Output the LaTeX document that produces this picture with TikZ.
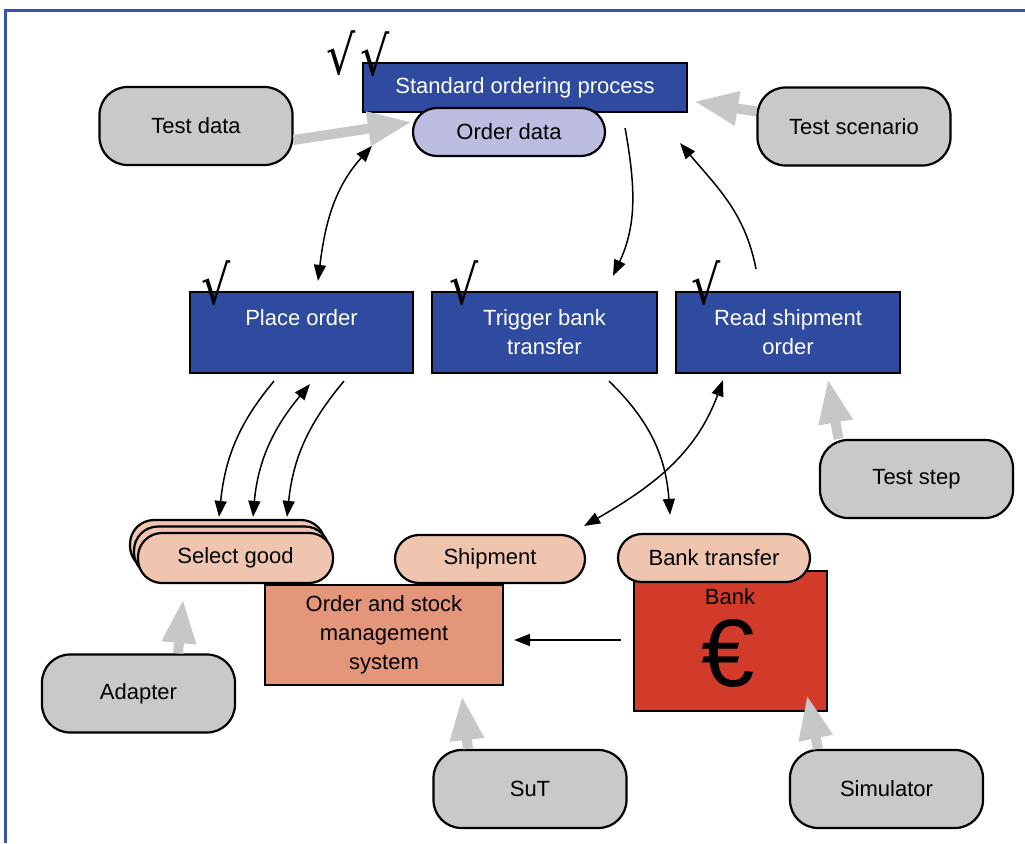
\documentclass[tikz,border=0pt]{standalone}
\usepackage{fontspec}
\setmainfont{Liberation Sans}
\newfontfamily\ckfont{DejaVu Sans}
\usetikzlibrary{arrows.meta}
\definecolor{dblue}{HTML}{2F4B9F}
\definecolor{lav}{HTML}{BCBDE0}
\definecolor{lgray}{HTML}{C8C9CB}
\definecolor{arrgray}{HTML}{C6C7C9}
\definecolor{peach}{HTML}{F0C5B0}
\definecolor{salmon}{HTML}{E4967A}
\definecolor{bankred}{HTML}{D23B29}
\definecolor{frameblue}{HTML}{3553A8}
\begin{document}
\begin{tikzpicture}[x=0.5pt,y=0.5pt,
  lbl/.style={font=\fontsize{11}{14.5}\selectfont, align=center, inner sep=0pt},
  bluebox/.style={lbl, draw=black, line width=1.1pt, fill=dblue, text=white},
  pill/.style={lbl, draw=black, line width=1.1pt, rounded corners=12pt, minimum width=96pt, minimum height=24pt},
  gbox/.style={lbl, draw=black, line width=1.1pt, fill=lgray, rounded corners=14pt, minimum width=96.5pt, minimum height=39pt},
  garrow/.style={draw=arrgray, line width=5pt, -{Triangle[length=22pt,width=16pt]}},
  barrow/.style={black, line width=0.75pt, -{Triangle[length=8pt,width=6pt]}},
  dbarrow/.style={black, line width=0.75pt, {Triangle[length=8pt,width=6pt]}-{Triangle[length=8pt,width=6pt]}},
  ckmark/.style={inner sep=0pt, font=\ckfont\fontsize{27}{27}\selectfont}
]
\useasboundingbox (0,0) rectangle (1025,843);
% frame
\draw[frameblue, line width=1.5pt] (5,0) -- (5,832) -- (1025,832);

% top
\node[bluebox, minimum width=162pt, minimum height=24.5pt] (sop) at (525,755.5) {Standard ordering process};
\node[pill, fill=lav] (od) at (509,711) {Order data};
\node[gbox] (td) at (196,717) {Test data};
\node[gbox] (ts) at (854,716.5) {Test scenario};

% middle
\node[bluebox, minimum width=111.5pt, minimum height=40.5pt] (po) at (301.5,510.5) {Place order\\\mbox{}};
\node[bluebox, minimum width=112.5pt, minimum height=40.5pt] (tbt) at (544.5,510.5) {Trigger bank\\transfer};
\node[bluebox, minimum width=112pt, minimum height=40.5pt] (rso) at (788,510.5) {Read shipment\\order};
\node[gbox] (tst) at (916.5,364) {Test step};

% bottom
\node[lbl, draw=black, line width=1.1pt, fill=salmon, minimum width=119pt, minimum height=50pt] (osm) at (384,208) {Order and stock\\management\\system};
\node[pill, fill=peach, minimum width=97.5pt, minimum height=25pt] (sgb2) at (227.5,298) {};
\node[pill, fill=peach, minimum width=97.5pt, minimum height=25pt] (sgb1) at (231.5,291.5) {};
\node[pill, fill=peach, minimum width=97.5pt, minimum height=25pt] (sg) at (235.5,285) {Select good};
\node[pill, fill=peach, minimum width=95pt] (sh) at (490,284) {Shipment};
\node[lbl, draw=black, line width=1.1pt, fill=bankred, minimum width=96.5pt, minimum height=70pt] (bank) at (730.5,202) {};
\node[pill, fill=peach] (bt) at (714,285) {Bank transfer};
\node[lbl] (banklbl) at (730,246) {Bank};
\node[lbl, font=\fontsize{48}{48}\selectfont] (euro) at (728,190) {€};
\node[gbox] (ad) at (138.5,149.5) {Adapter};
\node[gbox] (sut) at (530,54) {SuT};
\node[gbox] (sim) at (886.5,54) {Simulator};

% check marks
\node[ckmark] (ck1) at (341.5,790) {\scalebox{0.85}[1]{√}};
\node[ckmark] (ck2) at (375,789) {\scalebox{0.85}[1]{√}};
\node[ckmark] (ck3) at (216.5,560) {\scalebox{0.85}[1]{√}};
\node[ckmark] (ck4) at (464,560) {\scalebox{0.85}[1]{√}};
\node[ckmark] (ck5) at (706.5,560) {\scalebox{0.85}[1]{√}};

% gray arrows
\draw[garrow] ([yshift=-7pt]td.east) -- ([yshift=5pt]od.west);
\draw[garrow] ([yshift=7.5pt]ts.west) -- ([shift={(3pt,-7pt)}]sop.east);
\draw[garrow] ([xshift=-39pt]tst.north) -- ([shift={(20pt,-2.5pt)}]rso.south);
\draw[garrow] ([xshift=19.75pt]ad.north) -- ([shift={(-26.25pt,-7.5pt)}]sg.south);
\draw[garrow] ([xshift=-31pt]sut.north) -- ([shift={(39pt,-5pt)}]osm.south);
\draw[garrow] ([xshift=-34.25pt]sim.north) -- ([shift={(38.25pt,8.5pt)}]bank.south);

% black arrows
\draw[dbarrow] ([shift={(8.25pt,5pt)}]po.north) to[out=83,in=228] ([shift={(-20pt,-7pt)}]od.west);
\draw[barrow] ([shift={(9.5pt,2pt)}]od.east) to[out=-80,in=65] ([shift={(34.25pt,7.5pt)}]tbt.north);
\draw[barrow] ([shift={(-16pt,11pt)}]rso.north) to[out=101,in=-50] ([shift={(-4pt,-15pt)}]sop.south east);
\draw[barrow] ([shift={(-13.75pt,-3.5pt)}]po.south) to[out=230,in=84] ([shift={(-8.25pt,7.5pt)}]sg.north);
\draw[dbarrow] ([shift={(8.75pt,7.5pt)}]sg.north) to[out=85,in=230] ([shift={(4.25pt,-5pt)}]po.south);
\draw[barrow] ([shift={(21.25pt,-3.5pt)}]po.south) to[out=230,in=84] ([shift={(25.75pt,7.5pt)}]sg.north);
\draw[barrow] ([shift={(32.25pt,-3.5pt)}]tbt.south) to[out=-44,in=94] ([shift={(-22pt,9pt)}]bt.north);
\draw[dbarrow] ([shift={(-1pt,16.5pt)}]sh.east) to[out=30,in=250] ([shift={(-32.5pt,-3pt)}]rso.south);
\draw[barrow] ([shift={(-6pt,0.5pt)}]bank.west) -- ([shift={(5pt,-2.5pt)}]osm.east);
\end{tikzpicture}
\end{document}
